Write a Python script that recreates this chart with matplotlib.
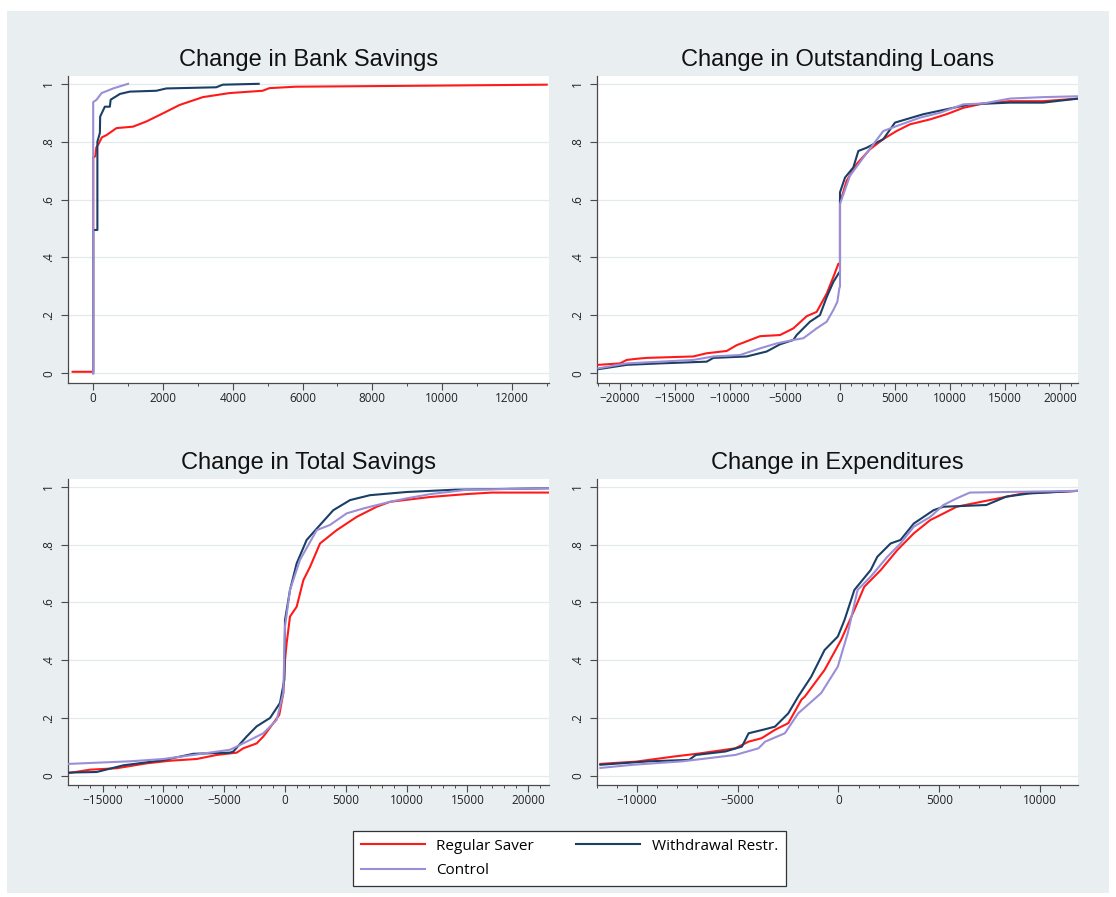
import matplotlib
matplotlib.use("Agg")
import matplotlib.pyplot as plt
from matplotlib.patches import Rectangle
from matplotlib.ticker import MultipleLocator, FixedLocator
from matplotlib.lines import Line2D

# ---- Change in Bank Savings (empirical CDFs) ----
bank_x_regular = [-590, 0, 0, 60, 90, 143, 250, 383, 669, 1143, 1526, 2000, 2477, 3143,
                  3906, 4857, 5050, 5800, 9000, 13000]
bank_cdf_regular = [0.005, 0.005, 0.745, 0.75, 0.78, 0.79, 0.815, 0.823, 0.847, 0.852, 0.87,
                    0.898, 0.927, 0.954, 0.968, 0.976, 0.985, 0.99, 0.993, 0.997]
bank_x_withdraw = [0, 0, 120, 120, 191, 200, 334, 477, 500, 766, 1049, 1810, 2096, 3526,
                   3714, 4743]
bank_cdf_withdraw = [0.0, 0.495, 0.495, 0.80, 0.83, 0.887, 0.921, 0.921, 0.945, 0.965, 0.973,
                     0.976, 0.984, 0.988, 0.997, 1.0]
bank_x_control = [0, 0, 97, 240, 571, 1000]
bank_cdf_control = [0.0, 0.937, 0.945, 0.968, 0.984, 1.0]

# ---- Change in Outstanding Loans ----
loans_x_regular = [-21970, -20000, -19390, -18480, -17580, -13330, -12120, -10300, -9390,
                   -7270, -5450, -4240, -3030, -2120, -1210, -610, -150, 0, 0, 151, 606,
                   1515, 2730, 3940, 5150, 6360, 8180, 9700, 11210, 13030, 15450, 18480, 21670]
loans_cdf_regular = [0.029, 0.034, 0.046, 0.05, 0.053, 0.058, 0.069, 0.077, 0.097, 0.128,
                     0.132, 0.155, 0.197, 0.212, 0.275, 0.332, 0.378, 0.38, 0.596, 0.608,
                     0.665, 0.723, 0.774, 0.809, 0.837, 0.86, 0.877, 0.895, 0.917, 0.932,
                     0.94, 0.94, 0.949]
loans_x_withdraw = [-21970, -19390, -16360, -12120, -11510, -8480, -6670, -5450, -4240,
                    -3940, -2730, -1820, -1210, -610, -60, 0, 0, 455, 1210, 1670, 2420, 3940,
                    5000, 7580, 10300, 11820, 15450, 18480, 21670]
loans_cdf_withdraw = [0.014, 0.029, 0.034, 0.04, 0.053, 0.058, 0.075, 0.10, 0.115, 0.132,
                      0.178, 0.201, 0.263, 0.315, 0.349, 0.35, 0.625, 0.676, 0.711, 0.768,
                      0.779, 0.809, 0.866, 0.895, 0.917, 0.929, 0.935, 0.935, 0.949]
loans_x_control = [-21970, -19390, -13330, -11510, -9090, -7270, -5760, -4240, -3330, -2120,
                   -1210, -610, -240, -60, 0, 0, 900, 2120, 3940, 5150, 7270, 9090, 11210,
                   13030, 15450, 18480, 21670]
loans_cdf_control = [0.017, 0.034, 0.046, 0.058, 0.063, 0.086, 0.103, 0.115, 0.121, 0.155,
                     0.178, 0.218, 0.247, 0.293, 0.30, 0.585, 0.682, 0.745, 0.837, 0.854,
                     0.883, 0.90, 0.929, 0.932, 0.949, 0.954, 0.957]

# ---- Change in Total Savings ----
total_x_regular = [-17820, -16040, -13840, -11370, -9460, -7260, -5620, -3970, -3430, -2330,
                   -1780, -960, -470, -140, 0, 137, 411, 960, 1510, 2060, 2880, 4250, 5900,
                   7540, 8630, 10000, 12000, 15000, 17000, 21700]
total_cdf_regular = [0.009, 0.021, 0.026, 0.043, 0.052, 0.058, 0.072, 0.08, 0.095, 0.112,
                     0.136, 0.182, 0.211, 0.286, 0.40, 0.459, 0.551, 0.585, 0.677, 0.723,
                     0.804, 0.85, 0.896, 0.931, 0.948, 0.955, 0.965, 0.975, 0.98, 0.98]
total_x_withdraw = [-17820, -15490, -13300, -10010, -7540, -4520, -4250, -3150, -2330, -1230,
                    -410, -55, 0, 411, 960, 1780, 2880, 3970, 5350, 6990, 8630, 10000, 14000,
                    21700]
total_cdf_withdraw = [0.011, 0.013, 0.036, 0.054, 0.076, 0.08, 0.084, 0.136, 0.171, 0.20,
                      0.252, 0.332, 0.539, 0.643, 0.735, 0.816, 0.868, 0.919, 0.954, 0.971,
                      0.977, 0.982, 0.99, 0.995]
total_x_control = [-17820, -12750, -10010, -7540, -4520, -3970, -1780, -690, -140, 0, 411,
                   1230, 2610, 3700, 5070, 6440, 8630, 10000, 12000, 15000, 21700]
total_cdf_control = [0.041, 0.05, 0.058, 0.072, 0.09, 0.101, 0.147, 0.193, 0.286, 0.516,
                     0.643, 0.747, 0.85, 0.868, 0.908, 0.925, 0.948, 0.96, 0.975, 0.99, 0.995]

# ---- Change in Expenditures ----
exp_x_regular = [-11820, -10030, -8230, -6920, -5120, -4460, -3810, -3150, -2490, -1840,
                 -1670, -690, 130, 790, 1280, 2100, 2920, 3740, 4560, 4880, 5870, 7510, 9150,
                 11900]
exp_cdf_regular = [0.041, 0.049, 0.066, 0.077, 0.095, 0.118, 0.13, 0.159, 0.182, 0.263,
                   0.274, 0.366, 0.47, 0.574, 0.654, 0.712, 0.781, 0.839, 0.885, 0.896, 0.931,
                   0.954, 0.977, 0.986]
exp_x_withdraw = [-11820, -9380, -7410, -7080, -5610, -4790, -4460, -3640, -3150, -2490,
                  -2000, -1350, -690, -30, 300, 790, 1600, 1930, 2590, 3080, 3740, 4720, 5210,
                  7340, 8330, 9470, 11900]
exp_cdf_withdraw = [0.038, 0.05, 0.055, 0.072, 0.084, 0.101, 0.147, 0.161, 0.17, 0.216,
                    0.274, 0.343, 0.435, 0.482, 0.539, 0.643, 0.712, 0.758, 0.804, 0.816,
                    0.873, 0.919, 0.931, 0.937, 0.966, 0.977, 0.986]
exp_x_control = [-11820, -10200, -7740, -5120, -3970, -3640, -2660, -2000, -860, -30, 460,
                 950, 1600, 2430, 3080, 3740, 4560, 5210, 5870, 6520, 11900]
exp_cdf_control = [0.027, 0.038, 0.05, 0.072, 0.095, 0.118, 0.147, 0.216, 0.286, 0.378,
                   0.493, 0.643, 0.689, 0.758, 0.804, 0.862, 0.896, 0.937, 0.96, 0.98, 0.986]

panel_titles = ["Change in Bank Savings", "Change in Outstanding Loans",
                "Change in Total Savings", "Change in Expenditures"]
series_labels = ["Regular Saver", "Withdrawal Restr.", "Control"]
y_ticks = [0, 0.2, 0.4, 0.6, 0.8, 1.0]
y_tick_labels = ["0", ".2", ".4", ".6", ".8", "1"]

RED = "#ff1a1a"
NAVY = "#1a3f66"
LAV = "#9a8fd6"
colors = [RED, NAVY, LAV]

W, H = 1116, 897
fig = plt.figure(figsize=(W / 100, H / 100), dpi=100)
fig.patch.set_facecolor("white")
fig.patches.append(Rectangle((7 / W, 1 - 893 / H), (1109 - 7) / W, (893 - 11) / H,
                             transform=fig.transFigure, facecolor="#e9eef1",
                             edgecolor="none", zorder=-10))

TITLE_FONT = ["Liberation Sans", "DejaVu Sans"]
TICK_FONT = ["Open Sans", "DejaVu Sans"]


def px_axes(left, top, right, bottom):
    return fig.add_axes([left / W, 1 - bottom / H, (right - left) / W, (bottom - top) / H])


panels = [
    dict(rect=(67.7, 76, 549, 382.5), xlim=(-731, 13066), major=list(range(0, 12001, 2000)),
         minor=1000, data=[(bank_x_regular, bank_cdf_regular),
                           (bank_x_withdraw, bank_cdf_withdraw),
                           (bank_x_control, bank_cdf_control)]),
    dict(rect=(596.7, 76, 1078, 382.5), xlim=(-22120, 21640),
         major=list(range(-20000, 20001, 5000)), minor=1000,
         data=[(loans_x_regular, loans_cdf_regular),
               (loans_x_withdraw, loans_cdf_withdraw),
               (loans_x_control, loans_cdf_control)]),
    dict(rect=(67.7, 479, 549, 785), xlim=(-17870, 21710),
         major=list(range(-15000, 20001, 5000)), minor=1000,
         data=[(total_x_regular, total_cdf_regular),
               (total_x_withdraw, total_cdf_withdraw),
               (total_x_control, total_cdf_control)]),
    dict(rect=(596.7, 479, 1078, 785), xlim=(-12000, 11890),
         major=list(range(-10000, 10001, 5000)), minor=1000,
         data=[(exp_x_regular, exp_cdf_regular),
               (exp_x_withdraw, exp_cdf_withdraw),
               (exp_x_control, exp_cdf_control)]),
]

for title, p in zip(panel_titles, panels):
    ax = px_axes(*p["rect"])
    ax.set_zorder(1)
    ax.set_facecolor("white")
    for (xs, ys), c in zip(p["data"], colors):
        ax.plot(xs, ys, color=c, lw=1.5, solid_joinstyle="round", zorder=3)
    ax.set_xlim(*p["xlim"])
    ax.set_ylim(-0.032, 1.027)
    ax.set_yticks(y_ticks)
    ax.set_yticklabels(y_tick_labels, rotation=90, va="center",
                       family=TICK_FONT, fontsize=8.5, color="#222222")
    ax.xaxis.set_major_locator(FixedLocator(p["major"]))
    ax.xaxis.set_minor_locator(MultipleLocator(p["minor"]))
    for lab in ax.get_xticklabels():
        lab.set_family(TICK_FONT)
        lab.set_fontsize(8.5)
        lab.set_color("#222222")
    ax.grid(axis="y", color="#e2eaee", lw=0.9, zorder=1)
    ax.set_axisbelow(True)
    for s in ("top", "right"):
        ax.spines[s].set_visible(False)
    for s in ("left", "bottom"):
        ax.spines[s].set_color("#4a4a4a")
        ax.spines[s].set_linewidth(0.9)
    ax.tick_params(axis="x", which="major", length=5, width=0.8, color="#4a4a4a", pad=1.5)
    ax.tick_params(axis="x", which="minor", length=2.5, width=0.7, color="#4a4a4a")
    ax.tick_params(axis="y", length=5, width=0.8, color="#4a4a4a", pad=4)
    ax.set_title(title, family=TITLE_FONT, fontsize=17, color="#111111", pad=7)

# legend is filled column by column: Regular Saver / Control, then Withdrawal Restr.
handles = [Line2D([], [], color=c, lw=1.5) for c in colors]
order = [0, 2, 1]
leg = fig.legend([handles[i] for i in order], [series_labels[i] for i in order],
                 loc="center", bbox_to_anchor=(569.5 / W, 1 - 858.5 / H), ncol=2,
                 prop={"family": TICK_FONT, "size": 11},
                 handlelength=4.2, handletextpad=0.75, columnspacing=2.75,
                 labelspacing=0.62, borderpad=0.5, frameon=True, fancybox=False,
                 framealpha=1)
leg.get_frame().set_edgecolor("#333333")
leg.get_frame().set_linewidth(0.9)
leg.get_frame().set_facecolor("white")

fig.savefig("out.png", dpi=100, facecolor=fig.get_facecolor())
